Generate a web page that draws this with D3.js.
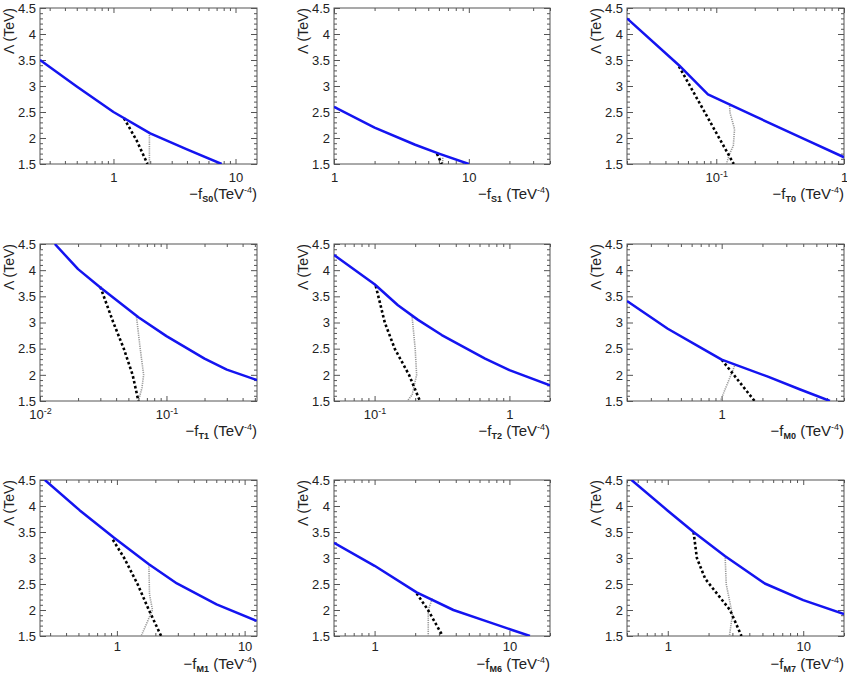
<!DOCTYPE html>
<html>
<head>
<meta charset="utf-8">
<script src="https://cdn.jsdelivr.net/npm/d3@7"></script>
<style>
  body { margin: 0; background: #fff; }
  svg text { font-family: "Liberation Sans", Arial, Helvetica, sans-serif; fill: #222; }
</style>
</head>
<body>
<svg id="chart" width="847" height="673"></svg>
<script>
const yTickValues = [1.5, 2, 2.5, 3, 3.5, 4, 4.5];

const s0Blue  = [[0.25,3.5],[0.5,2.99],[1,2.5],[2,2.09],[4,1.78],[7.7,1.5]];
const s0Black = [[1.22,2.38],[1.55,1.95],[1.9,1.5]];
const s0Gray  = [[1.97,2.1],[1.97,1.5]];

const s1Blue  = [[1,2.6],[2,2.2],[4,1.87],[6,1.7],[10,1.5]];
const s1Black = [[5.8,1.7],[6.3,1.5]];
const s1Gray  = [[6.4,1.62],[6.4,1.5]];

const t0Blue  = [[0.02,4.3],[0.051,3.4],[0.086,2.84],[0.2,2.42],[0.5,1.97],[1,1.63]];
const t0Black = [[0.051,3.38],[0.0836,2.44],[0.137,1.5]];
const t0Gray  = [[0.127,2.66],[0.128,2.49],[0.139,2.17],[0.136,1.85],[0.127,1.69],[0.12,1.5]];

const t1Blue  = [[0.0131,4.5],[0.02,4.02],[0.03,3.67],[0.06,3.1],[0.1,2.74],[0.2,2.31],[0.3,2.1],[0.52,1.9]];
const t1Black = [[0.030,3.68],[0.038,3.0],[0.046,2.5],[0.054,2.0],[0.060,1.5]];
const t1Gray  = [[0.058,3.1],[0.062,2.5],[0.066,2.0],[0.064,1.75],[0.06,1.5]];

const t2Blue  = [[0.05,4.29],[0.1,3.73],[0.149,3.33],[0.21,3.05],[0.315,2.76],[0.66,2.31],[1,2.09],[2,1.8]];
const t2Black = [[0.102,3.7],[0.119,3.0],[0.141,2.5],[0.18,2.0],[0.217,1.5]];
const t2Gray  = [[0.19,3.1],[0.2,2.5],[0.205,2.0],[0.19,1.62],[0.175,1.5]];

const m0Blue  = [[0.2,3.41],[0.4,2.88],[0.7,2.52],[1,2.29],[2.17,1.97],[3.8,1.72],[6.3,1.5]];
const m0Black = [[1.0,2.29],[1.75,1.5]];
const m0Gray  = [[1.245,2.17],[1.0,1.56],[0.98,1.5]];

const m1Blue  = [[0.273,4.5],[0.51,3.92],[0.95,3.39],[1.78,2.88],[2.95,2.51],[6.03,2.11],[12.4,1.79]];
const m1Black = [[0.93,3.35],[1.14,3.0],[1.45,2.5],[1.78,2.0],[2.22,1.5]];
const m1Gray  = [[1.78,2.88],[1.8,2.3],[1.9,2.0],[1.75,1.8],[1.55,1.5]];

const m6Blue  = [[0.5,3.29],[1,2.85],[2.05,2.34],[3.84,2.0],[6.8,1.78],[14.2,1.5]];
const m6Black = [[2.05,2.32],[2.49,2.0],[3.2,1.5]];
const m6Gray  = [[2.68,2.22],[2.5,2.0],[2.5,1.5]];

const m7Blue  = [[0.54,4.5],[1,3.91],[1.55,3.5],[2.64,3.04],[5.2,2.51],[10,2.19],[20,1.92]];
const m7Black = [[1.55,3.5],[1.64,3.0],[1.89,2.6],[2.88,2.0],[3.5,1.5]];
const m7Gray  = [[2.65,3.05],[2.7,2.5],[2.9,2.1],[3.0,1.9],[2.85,1.5]];

// panel table: operator name, x range and its three curves
const panels = [
  { op: "S0", xDom: [0.25, 15],  blue: s0Blue, black: s0Black, gray: s0Gray, tight: true },
  { op: "S1", xDom: [1, 40],     blue: s1Blue, black: s1Black, gray: s1Gray },
  { op: "T0", xDom: [0.02, 1],   blue: t0Blue, black: t0Black, gray: t0Gray },
  { op: "T1", xDom: [0.01, 0.52],blue: t1Blue, black: t1Black, gray: t1Gray },
  { op: "T2", xDom: [0.05, 2],   blue: t2Blue, black: t2Black, gray: t2Gray },
  { op: "M0", xDom: [0.2, 8],    blue: m0Blue, black: m0Black, gray: m0Gray },
  { op: "M1", xDom: [0.25, 12.5],blue: m1Blue, black: m1Black, gray: m1Gray },
  { op: "M6", xDom: [0.5, 20],   blue: m6Blue, black: m6Black, gray: m6Gray },
  { op: "M7", xDom: [0.5, 20],   blue: m7Blue, black: m7Black, gray: m7Gray }
];

// frame geometry of the 3x3 grid
const colX = [[40, 257], [334, 550], [627, 844]];
const rowY = [[8, 164], [244, 401], [480, 636]];
const labelPad = [9, 9, 6];
const titleOffset = [35, 35, 33];

const svg = d3.select("#chart");

function isDecade(v) {
  const l = Math.log10(v);
  return Math.abs(l - Math.round(l)) < 1e-9;
}

// "1", "10" or 10 with superscript exponent
function decadeLabel(textSel) {
  textSel.each(function(v) {
    const t = d3.select(this).text(null);
    const e = Math.round(Math.log10(v));
    if (e >= 0) { t.text(String(Math.round(v))); return; }
    t.append("tspan").text("10");
    t.append("tspan").attr("dy", "-0.55em").style("font-size", "9px").text("-" + (-e));
  });
}

function drawPanel(p, i) {
  const [x0, x1] = colX[i % 3];
  const row = Math.floor(i / 3);
  const [y0, y1] = rowY[row];
  const w = x1 - x0, h = y1 - y0;

  const x = d3.scaleLog().domain(p.xDom).range([0, w]);
  const y = d3.scaleLinear().domain([1.5, 4.5]).range([h, 0]);

  const g = svg.append("g").attr("transform", `translate(${x0},${y0})`);

  const xAll = x.ticks().filter(v => v >= p.xDom[0] * 0.9999 && v <= p.xDom[1] * 1.0001);
  const xMajor = xAll.filter(isDecade);
  const xMinor = xAll.filter(v => !isDecade(v));
  const yMinor = y.ticks(30).filter(v => yTickValues.indexOf(+v.toFixed(1)) < 0);

  // ticks, all pointing into the frame
  const addAxis = (axis, tx, ty) => {
    const a = g.append("g").attr("transform", `translate(${tx},${ty})`).call(axis);
    a.select(".domain").remove();
    a.selectAll("line").attr("stroke", "#555");
    return a;
  };
  addAxis(d3.axisBottom(x).tickValues(xMinor).tickSize(-3).tickFormat(""), 0, h);
  addAxis(d3.axisTop(x).tickValues(xMinor).tickSize(-3).tickFormat(""), 0, 0);
  addAxis(d3.axisTop(x).tickValues(xMajor).tickSize(-5).tickFormat(""), 0, 0);
  const xb = addAxis(d3.axisBottom(x).tickValues(xMajor).tickSize(-5).tickPadding(labelPad[row]), 0, h);
  xb.selectAll("text").style("font-size", "13px").attr("font-family", null).attr("fill", null).call(decadeLabel);

  addAxis(d3.axisLeft(y).tickValues(yMinor).tickSize(-3).tickFormat(""), 0, 0);
  addAxis(d3.axisRight(y).tickValues(yMinor).tickSize(-3).tickFormat(""), w, 0);
  addAxis(d3.axisRight(y).tickValues(yTickValues).tickSize(-6).tickFormat(""), w, 0);
  const yl = addAxis(d3.axisLeft(y).tickValues(yTickValues).tickSize(-6).tickPadding(4).tickFormat(d => String(d)), 0, 0);
  yl.selectAll("text").style("font-size", "13px").attr("font-family", null).attr("fill", null);

  g.append("rect")
    .attr("width", w).attr("height", h)
    .attr("fill", "none").attr("stroke", "#555").attr("stroke-width", 1);

  // curves
  const clipId = "clip" + i;
  g.append("clipPath").attr("id", clipId).append("rect").attr("width", w).attr("height", h);
  const line = d3.line().x(d => x(d[0])).y(d => y(d[1]));
  const curves = g.append("g").attr("clip-path", `url(#${clipId})`);

  curves.append("path").attr("d", line(p.gray))
    .attr("fill", "none").attr("stroke", "#999").attr("stroke-width", 1.6)
    .attr("stroke-dasharray", "1.2,1");
  curves.append("path").attr("d", line(p.black))
    .attr("fill", "none").attr("stroke", "#000").attr("stroke-width", 2.6)
    .attr("stroke-dasharray", "2.6,2.4");
  curves.append("path").attr("d", line(p.blue))
    .attr("fill", "none").attr("stroke", "#1414f0").attr("stroke-width", 2.5)
    .attr("stroke-linejoin", "round");

  // axis titles
  g.append("text")
    .attr("transform", `translate(${-26},0) rotate(-90)`)
    .attr("text-anchor", "end")
    .style("font-size", "14px")
    .text("\u039B (TeV)");

  const xt = g.append("text")
    .attr("x", w).attr("y", h + titleOffset[row])
    .attr("text-anchor", "end")
    .style("font-size", "15px");
  xt.append("tspan").text("\u2212f");
  xt.append("tspan").attr("dy", 3).style("font-size", "9px").style("font-weight", "bold").text(p.op);
  xt.append("tspan").attr("dy", -3).text(p.tight ? "(TeV" : " (TeV");
  xt.append("tspan").attr("dy", -6).style("font-size", "9px").text("-4");
  xt.append("tspan").attr("dy", 6).text(")");
}

panels.forEach(drawPanel);
</script>
</body>
</html>
